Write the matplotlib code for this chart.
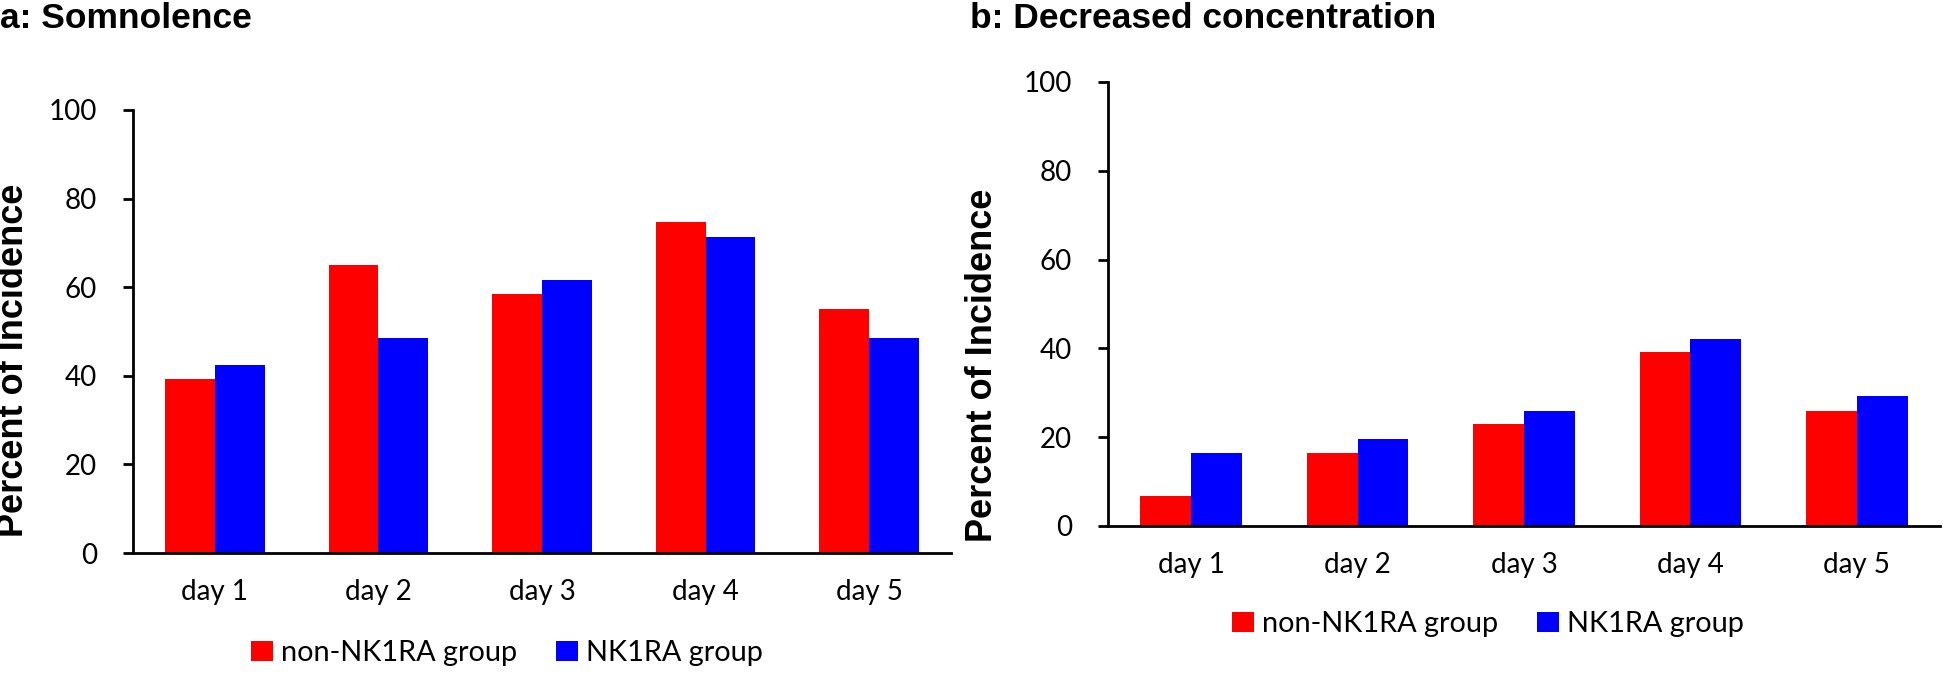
import matplotlib
matplotlib.use("Agg")
import matplotlib.pyplot as plt
import numpy as np

days = ["day 1", "day 2", "day 3", "day 4", "day 5"]
series_names = ["non-NK1RA group", "NK1RA group"]
som_non = [39.2, 64.9, 58.4, 74.7, 55.1]
som_nk = [42.4, 48.6, 61.7, 71.4, 48.6]
conc_non = [6.7, 16.4, 23.0, 39.2, 26.0]
conc_nk = [16.4, 19.7, 26.0, 42.1, 29.3]
yticks = [0, 20, 40, 60, 80, 100]

W, H = 1943, 692
fig = plt.figure(figsize=(W / 100, H / 100), dpi=100)

TICKFONT = "Lato"
BOLDFONT = "Liberation Sans"

def make_axes(rect, non, nk, legend_center):
    l, b, r, t = rect
    ax = fig.add_axes([l / W, 1 - b / H, (r - l) / W, (b - t) / H])
    x = np.arange(len(days))
    w = 0.305
    h1 = ax.bar(x - w / 2, non, w, color="#FF0000", label=series_names[0])
    h2 = ax.bar(x + w / 2, nk, w, color="#0000FF", label=series_names[1])
    ax.set_xlim(-0.5, len(days) - 0.5)
    ax.set_ylim(0, 100)
    ax.set_yticks(yticks)
    ax.set_xticks(x)
    ax.set_xticklabels(days)
    for s in ["top", "right"]:
        ax.spines[s].set_visible(False)
    for s in ["left", "bottom"]:
        ax.spines[s].set_linewidth(2.0)
    ax.tick_params(axis="y", length=7, width=2.0, pad=19, direction="out")
    ax.tick_params(axis="x", length=0, pad=19)
    for lab in ax.get_xticklabels() + ax.get_yticklabels():
        lab.set_fontfamily(TICKFONT)
        lab.set_fontsize(20)
    cx, cy = legend_center
    fig.legend(handles=[h1, h2], labels=series_names, loc="center",
               bbox_to_anchor=(cx / W, 1 - cy / H), ncol=2, frameon=False,
               prop={"family": TICKFONT, "size": 20.8},
               handlelength=0.76, handleheight=0.7, handletextpad=0.28,
               columnspacing=1.35, borderpad=0.2)
    return ax

ax1 = make_axes((133, 553, 951, 110), som_non, som_nk, (507, 653))
ax2 = make_axes((1108, 526, 1940, 82), conc_non, conc_nk, (1488, 624))

fig.text(0 / W, 1 - 28 / H, "a: Somnolence", fontfamily=BOLDFONT,
         fontweight="bold", fontsize=25.5, ha="left", va="baseline")
fig.text(970 / W, 1 - 28 / H, "b: Decreased concentration", fontfamily=BOLDFONT,
         fontweight="bold", fontsize=25.5, ha="left", va="baseline")

fig.text(14 / W, 1 - 360 / H, "Percent of Incidence", fontfamily=BOLDFONT,
         fontweight="bold", fontsize=26, rotation=90, ha="center", va="center")
fig.text(983 / W, 1 - 365 / H, "Percent of Incidence", fontfamily=BOLDFONT,
         fontweight="bold", fontsize=26, rotation=90, ha="center", va="center")

fig.savefig("out.png", dpi=100, facecolor="white")
